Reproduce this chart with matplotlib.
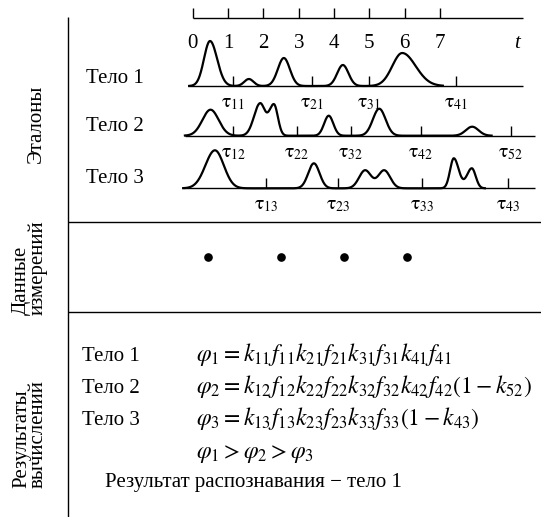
import numpy as np
import matplotlib.pyplot as plt

plt.rcParams['font.family'] = ['Liberation Serif', 'DejaVu Serif']
plt.rcParams['mathtext.fontset'] = 'stix'

# --- data ---
t_ticks = [0, 1, 2, 3, 4, 5, 6, 7]

# reference ("эталон") signals: peak position (t), height (px), left / right width (t)
body1_peak_t = [0.49, 1.59, 2.58, 4.25, 5.93]
body1_peak_h = [45, 7, 28, 21, 33]
body1_wl = [0.17, 0.13, 0.17, 0.16, 0.28]
body1_wr = [0.20, 0.13, 0.17, 0.16, 0.38]
body1_span = [-0.10, 7.08]
body1_tau_t = [1.13, 3.37, 4.99, 7.45]
body1_tau_lbl = ['11', '21', '31', '41']

body2_peak_t = [0.505, 1.905, 2.30, 3.85, 5.28, 7.91]
body2_peak_h = [26, 32, 31, 20, 27, 9]
body2_wl = [0.23, 0.17, 0.14, 0.13, 0.18, 0.18]
body2_wr = [0.23, 0.14, 0.11, 0.13, 0.18, 0.18]
body2_span = [-0.22, 8.46]
body2_tau_t = [1.15, 2.94, 4.48, 6.46, 9.00]
body2_tau_lbl = ['12', '22', '32', '42', '52']

body3_peak_t = [0.63, 3.43, 4.88, 5.42, 7.39, 7.90]
body3_peak_h = [38, 25, 18, 18, 30, 20]
body3_wl = [0.27, 0.16, 0.17, 0.17, 0.105, 0.14]
body3_wr = [0.25, 0.16, 0.17, 0.17, 0.14, 0.11]
body3_span = [-0.27, 8.27]
body3_tau_t = [2.07, 4.12, 6.48, 8.92]
body3_tau_lbl = ['13', '23', '33', '43']

meas_t = [0.43, 2.50, 4.28, 6.07]

row_names = ['Тело 1', 'Тело 2', 'Тело 3']
formulas = [
    r'$\varphi_1 = k_{11}f_{11}k_{21}f_{21}k_{31}f_{31}k_{41}f_{41}$',
    r'$\varphi_2 = k_{12}f_{12}k_{22}f_{22}k_{32}f_{32}k_{42}f_{42}(1-k_{52})$',
    r'$\varphi_3 = k_{13}f_{13}k_{23}f_{23}k_{33}f_{33}(1-k_{43})$',
]
order_text = r'$\varphi_1 > \varphi_2 > \varphi_3$'
result_text = 'Результат распознавания − тело 1'

# --- layout (pixels of the 541x517 picture) ---
W, H = 541, 517
T0, DT = 192.7, 35.33          # pixel of t=0 and pixels per unit t


def X(px):
    return (px - T0) / DT


fig = plt.figure(figsize=(W / 100, H / 100), dpi=100)
ax = fig.add_axes([0, 0, 1, 1])
ax.set_xlim(X(0), X(W))
ax.set_ylim(H, 0)
ax.axis('off')

k = dict(color='black', lw=1.0, solid_capstyle='butt')
fs = 15

# frame lines
ax.plot([X(67.5), X(67.5)], [17, H], **k)
ax.plot([X(67.5), X(W)], [222, 222], **k)
ax.plot([X(67.5), X(W)], [312, 312], **k)

# time axis
ax.plot([0, X(523)], [18.3, 18.3], **k)
for t in t_ticks:
    ax.plot([t, t], [7.5, 18.3], **k)
    ax.text(t, 43.5, str(t), fontsize=fs, ha='center', va='center')
ax.text(X(517), 43.5, 't', fontsize=fs, style='italic', ha='center', va='center')


def signal(t, pk, h, wl, wr):
    y = np.zeros_like(t)
    for p, a, l, r in zip(pk, h, wl, wr):
        s = np.where(t < p, l, r)
        y += a * np.exp(-0.5 * ((t - p) / s) ** 2)
    return y


rows = [
    (body1_peak_t, body1_peak_h, body1_wl, body1_wr, body1_span, body1_tau_t, body1_tau_lbl),
    (body2_peak_t, body2_peak_h, body2_wl, body2_wr, body2_span, body2_tau_t, body2_tau_lbl),
    (body3_peak_t, body3_peak_h, body3_wl, body3_wr, body3_span, body3_tau_t, body3_tau_lbl),
]
base_y = [86, 135.7, 188.3]
line_start = [188, 185, 183]
line_end = [523, 535, 535]
name_y = [78.3, 126.7, 178.3]

for i, (pk, h, wl, wr, span, tau_t, tau_lbl) in enumerate(rows):
    b = base_y[i]
    ax.plot([X(line_start[i]), X(line_end[i])], [b, b], **k)
    tt = np.linspace(span[0], span[1], 800)
    ax.plot(tt, b - signal(tt, pk, h, wl, wr), color='black', lw=1.6)
    for t, lb in zip(tau_t, tau_lbl):
        ax.plot([t, t], [b - 10, b], **k)
        ax.text(t, b + 17.5, r'$\mathrm{\tau}_{%s}$' % lb, fontsize=14,
                ha='center', va='center')
    ax.text(X(86.5), name_y[i], row_names[i], fontsize=fs, ha='left', va='center')

# measurement data
ax.plot(meas_t, [257] * len(meas_t), 'o', color='black', ms=5.2, ls='none')

# results (aligned on the text baseline)
res_base = [361, 393, 425]
for i in range(3):
    ax.text(X(81.5), res_base[i], row_names[i], fontsize=fs, ha='left', va='baseline')
    ax.text(X(196), res_base[i], formulas[i], fontsize=17, ha='left', va='baseline')
ax.text(X(196), 458, order_text, fontsize=17, ha='left', va='baseline')
ax.text(X(105), 487, result_text, fontsize=fs, ha='left', va='baseline')

# section captions (rotated)
cap = dict(fontsize=fs, rotation=90, ha='center', va='bottom',
           multialignment='left', linespacing=0.8)
ax.text(X(36.5), 163, 'Эталоны', **cap)
ax.text(X(29.5), 315, 'Данные\nизмерений', **cap)
ax.text(X(30), 488, 'Результаты\nвычислений', **cap)

fig.savefig('out.png', dpi=100)
